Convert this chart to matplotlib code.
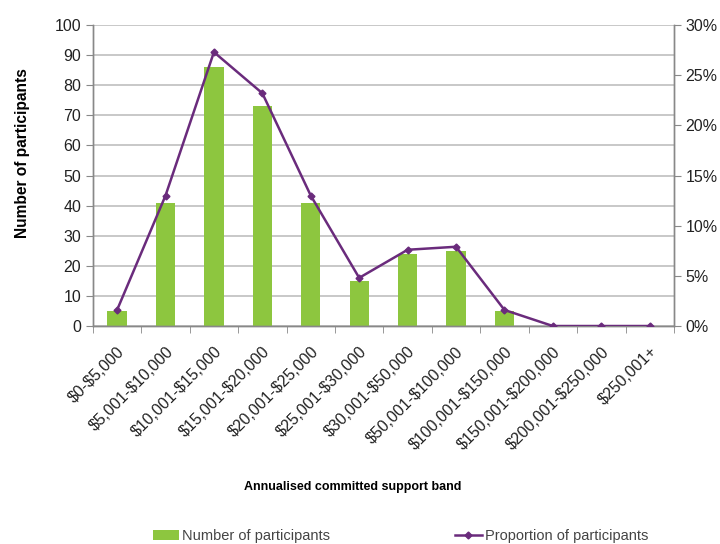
import numpy as np
import matplotlib.pyplot as plt
from matplotlib.ticker import FuncFormatter, MultipleLocator, FixedLocator

plt.rcParams['font.family'] = ['Liberation Sans', 'DejaVu Sans']

# support bands and values
bands = ["$0-$5,000", "$5,001-$10,000", "$10,001-$15,000", "$15,001-$20,000",
         "$20,001-$25,000", "$25,001-$30,000", "$30,001-$50,000", "$50,001-$100,000",
         "$100,001-$150,000", "$150,001-$200,000", "$200,001-$250,000", "$250,001+"]
participants = [5, 41, 86, 73, 41, 15, 24, 25, 5, 0, 0, 0]
proportion = [1.6, 13.0, 27.3, 23.2, 13.0, 4.8, 7.6, 7.9, 1.6, 0.0, 0.0, 0.0]

green = "#8DC63F"
purple = "#6A2B7C"
grid_grey = "#BFBFBF"

fig = plt.figure(figsize=(7.2, 5.44), dpi=100)
ax = fig.add_axes([0.129, 0.4007, 0.807, 0.5533])
ax2 = ax.twinx()

x = np.arange(len(bands))
ax.bar(x, participants, width=0.4, color=green, zorder=2, label="Number of participants")
ax2.plot(x, proportion, color=purple, lw=1.8, marker="D", ms=3.5, zorder=3,
         label="Proportion of participants")

ax.set_xlim(-0.5, len(bands) - 0.5)
ax.set_ylim(0, 100)
ax2.set_ylim(0, 30)
ax.yaxis.set_major_locator(MultipleLocator(10))
ax2.yaxis.set_major_locator(MultipleLocator(5))
ax2.yaxis.set_major_formatter(FuncFormatter(lambda v, p: f"{v:.0f}%"))

ax.grid(axis="y", color=grid_grey, lw=1.2, zorder=0)
ax.set_axisbelow(True)

# category labels between boundary ticks ($ escaped so it is not read as math)
ax.set_xticks(x)
ax.set_xticklabels([b.replace("$", r"\$") for b in bands], rotation=45, ha="right",
                   va="top", rotation_mode="anchor", fontsize=11.5, color="#222222")
ax.tick_params(axis="x", which="major", length=0, pad=13)
ax.xaxis.set_minor_locator(FixedLocator(np.arange(-0.5, len(bands), 1.0)))
ax.tick_params(axis="x", which="minor", length=5, color="#888888")

ax.tick_params(axis="y", labelsize=11.5, length=5, color="#888888", labelcolor="#222222")
ax2.tick_params(axis="y", labelsize=11.5, length=5, color="#888888", labelcolor="#222222")

for a in (ax, ax2):
    a.spines["top"].set_visible(False)
    for s in ("left", "right", "bottom"):
        a.spines[s].set_color("#888888")
        a.spines[s].set_linewidth(1.0)

ax.set_ylabel("Number of participants", fontsize=11.2, fontweight="bold")
ax.yaxis.set_label_coords(-0.109, 0.575)
fig.text(0.49, 0.105, "Annualised committed support band", ha="center", va="center",
         fontsize=9, fontweight="bold")

h1, l1 = ax.get_legend_handles_labels()
h2, l2 = ax2.get_legend_handles_labels()
fig.legend(h1 + h2, l1 + l2, loc="center", bbox_to_anchor=(0.556, 0.015), ncol=2,
           frameon=False, fontsize=10.5, columnspacing=8.6, handlelength=1.8,
           handletextpad=0.2, labelcolor="#444444")

fig.savefig("out.png", dpi=100)
